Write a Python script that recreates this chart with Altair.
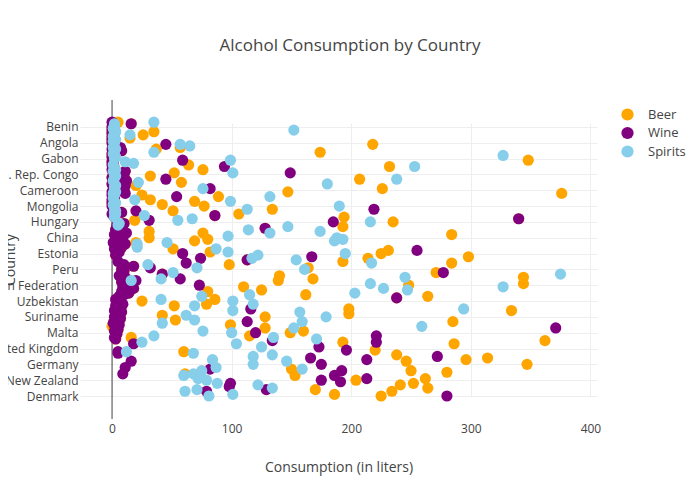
import altair as alt
import pandas as pd

# Countries from bottom (index 0) to top
countries = [
    "Denmark", "Sweden", "Norway", "Finland", "Iceland", "Ireland", "Netherlands", "Belgium", "Luxembourg", "Austria",
    "New Zealand", "Australia", "Canada", "USA", "Switzerland", "France", "Spain", "Portugal", "Italy", "Greece",
    "Germany", "Czech Republic", "Slovakia", "Poland", "Slovenia", "Croatia", "Lithuania", "Latvia", "Belarus", "Ukraine",
    "United Kingdom", "Cyprus", "Andorra", "Monaco", "Bulgaria", "Romania", "Serbia", "Montenegro", "Bosnia and Herzegovina", "Macedonia",
    "Malta", "Albania", "Moldova", "Georgia", "Armenia", "Azerbaijan", "Kazakhstan", "Kyrgyzstan", "Tajikistan", "Turkmenistan",
    "Suriname", "Guyana", "Venezuela", "Colombia", "Ecuador", "Bolivia", "Paraguay", "Uruguay", "Argentina", "Chile",
    "Uzbekistan", "Brazil", "Mexico", "Cuba", "Jamaica", "Haiti", "Dominican Republic", "Bahamas", "Barbados", "Grenada",
    "Russian Federation", "Saint Lucia", "Dominica", "Antigua and Barbuda", "Trinidad and Tobago", "Belize", "Guatemala", "Honduras", "El Salvador", "Nicaragua",
    "Peru", "Costa Rica", "Panama", "Japan", "South Korea", "Thailand", "Vietnam", "Laos", "Cambodia", "Myanmar",
    "Estonia", "Philippines", "Indonesia", "Malaysia", "Singapore", "Brunei", "Timor-Leste", "Papua New Guinea", "Fiji", "Samoa",
    "China", "Tonga", "Vanuatu", "Solomon Islands", "Kiribati", "Micronesia", "Palau", "Tuvalu", "India", "Sri Lanka",
    "Hungary", "Nepal", "Bhutan", "Bangladesh", "Pakistan", "Afghanistan", "Iran", "Iraq", "Syria", "Lebanon",
    "Mongolia", "Jordan", "Israel", "Turkey", "Egypt", "Libya", "Tunisia", "Algeria", "Morocco", "Mauritania",
    "Cameroon", "Mali", "Niger", "Chad", "Sudan", "Eritrea", "Ethiopia", "Djibouti", "Somalia", "Kenya",
    "Dem. Rep. Congo", "Uganda", "Rwanda", "Burundi", "Tanzania", "Malawi", "Zambia", "Zimbabwe", "Mozambique", "Madagascar",
    "Gabon", "Namibia", "Botswana", "South Africa", "Lesotho", "Swaziland", "Mauritius", "Seychelles", "Comoros", "Congo",
    "Angola", "Central African Republic", "Equatorial Guinea", "Nigeria", "Ghana", "Togo", "Cote d'Ivoire", "Liberia", "Sierra Leone", "Guinea",
    "Benin", "Burkina Faso", "Senegal", "Gambia",
]

N = None
beer = [
    225, 186, N, 234, 170, 264, N, 241, 252, N,
    204, 262, N, 153, 61, 280, 250, 150, N, N,
    347, N, 246, 296, 314, N, 238, N, 60, 220,
    N, N, N, 286, 193, 362, 3, 16, 115, 4,
    149, 160, 5, 128, 0, 99, 1, 285, 53, 7,
    128, 42, 198, 8, 334, 198, 6, 52, 79, 4,
    25, 86, 238, 264, 162, 14, 80, 125, 18, 110,
    248, 344, 8, 139, 168, 344, 140, 42, 271, 10,
    8, 164, 18, 98, 284, 193, 113, 214, 298, 3,
    225, 82, 231, 51, 8, 4, 11, 20, 69, 80,
    31, 5, 284, 76, 31, 3, 128, 193, 4, 10,
    235, 19, 340, 194, 86, 106, 8, 51, 134, 1,
    77, 42, 0, 69, 32, 2, 89, 25, 376, 147,
    10, 226, 1, 20, 0, 58, 12, 207, 0, 32,
    1, 52, 11, 76, 2, 232, 64, 1, 0, 348,
    1, 0, 2, 0, 174, 8, 37, 57, 1, 218,
    0, 2, 0, 15, 0, 26, 0, 35, 0, 2,
    0, 1, 16, 5,
]
wine = [
    280, N, N, 79, 129, N, 98, N, 99, 191,
    175, 213, N, 186, 9, N, 192, 82, 11, N,
    175, N, 16, 213, 166, 272, N, 5, 5, 196,
    N, 173, N, 18, 221, 134, 3, 2, 221, 4,
    120, 2, 5, 371, 3, 6, 1, 113, 4, 7,
    2, 5, 3, 8, 2, 116, 6, 3, 9, 4,
    7, 3, 238, 6, 10, 14, 8, 12, 18, 9,
    73, 15, 8, 20, 57, 11, 6, 42, 277, 10,
    8, 32, 18, 10, 62, 5, 113, 74, 167, 3,
    59, 6, 255, 2, 8, 4, 11, 1, 7, 3,
    9, 5, 2, 12, 6, 3, 128, 8, 4, 10,
    185, 31, 340, 2, 86, 0, 8, 20, 219, 1,
    0, 2, 0, 1, 0, 2, 54, 0, 11, 0,
    10, 82, 1, 11, 0, 10, 12, 45, 0, 10,
    1, 149, 11, 0, 2, 94, 0, 1, 0, 59,
    1, 0, 2, 0, 1, 8, 0, 7, 1, 45,
    0, 2, 0, 1, 0, 2, 0, 1, 0, 2,
    0, 1, 16, 0,
]
spirits = [
    81, 101, N, 61, 71, 134, N, 122, 88, N,
    79, 72, N, 60, 68, N, 75, 159, 87, N,
    118, N, 146, 84, N, 118, 134, 68, 12, N,
    N, 125, N, 104, 25, N, 171, 135, 35, N,
    100, 76, N, 152, 259, N, 42, 159, 69, N,
    179, 62, N, 157, 101, 294, N, 69, 118, N,
    101, 41, N, 75, 115, 203, N, 247, 227, 327,
    N, 216, N, 16, 41, 245, N, 375, 51, N,
    161, 71, N, 30, 217, N, 154, 117, N, 122,
    195, 97, N, 87, 21, N, 21, 46, 186, 193,
    188, 97, N, 132, 174, 114, N, 147, 5, 6,
    216, 55, 67, 2, 27, 3, 2, 3, 113, 2,
    190, 1, 3, 99, 19, 1, 132, 2, 1, 3,
    2, 76, 2, 3, 180, 22, 1, 238, 2, 3,
    2, 101, 1, 3, 2, 253, 1, 18, 11, 99,
    2, 3, 327, 1, 35, 2, 3, 1, 65, 57,
    2, 1, 3, 2, 1, 15, 2, 3, 152, 1,
    2, 2, 2, 35,
]

series_names = ["Beer", "Wine", "Spirits"]
series_colors = ["#FFA500", "#800080", "#87CEEB"]
x_ticks = [0, 100, 200, 300, 400]
labelled = countries[::10]

records = []
for name, vals in zip(series_names, [beer, wine, spirits]):
    for c, v in zip(countries, vals):
        if v is not None:
            records.append({"country": c, "drink": name, "value": v})
df = pd.DataFrame(records)
df["order"] = range(len(df))

FONT = "Open Sans"
TXT = "#444"
y_domain = list(reversed(countries))

x_scale = alt.Scale(domain=[-26.8, 405.5], nice=False, zero=False)
x_axis = alt.Axis(
    values=x_ticks, title="Consumption (in liters)", grid=True, gridColor="#eeeeee",
    domain=False, ticks=False, labelPadding=4, labelFontSize=12, labelFont=FONT,
    labelColor=TXT, titleFont=FONT, titleFontSize=14, titleFontWeight="normal",
    titleColor=TXT, titleY=48, titleBaseline="middle",
)

zero_line = alt.Chart(pd.DataFrame({"value": [0]})).mark_rule(
    color="#444444", strokeWidth=1
).encode(x=alt.X("value:Q", scale=x_scale, axis=x_axis))

points = alt.Chart(df).mark_circle(size=125, opacity=1).encode(
    x=alt.X("value:Q", scale=x_scale, axis=x_axis),
    y=alt.Y(
        "country:N",
        sort=y_domain,
        scale=alt.Scale(type="point", domain=y_domain, range=[22.2, 296], padding=0),
        axis=alt.Axis(
            values=labelled, title="Country", grid=True, gridColor="#eeeeee",
            domain=False, ticks=False, labelPadding=2, labelFontSize=12,
            labelFont=FONT, labelColor=TXT, labelLimit=0, labelOverlap=False,
            titleFont=FONT, titleFontSize=14, titleFontWeight="normal",
            titleColor=TXT, titleX=-70, titleY=159.5, titleAngle=270,
            titleAlign="center", titleBaseline="middle",
        ),
    ),
    color=alt.Color(
        "drink:N",
        scale=alt.Scale(domain=series_names, range=series_colors),
        legend=alt.Legend(
            title=None, orient="none", legendX=541, legendY=8,
            symbolType="circle", symbolSize=150, symbolStrokeWidth=0,
            labelFont=FONT, labelFontSize=13, labelColor=TXT,
            rowPadding=4.5, labelOffset=14,
        ),
    ),
    order=alt.Order("order:Q"),
)

chart = alt.layer(zero_line, points).properties(
    width=517,
    height=319,
    autosize=alt.AutoSizeParams(type="none"),
    padding={"left": 72, "top": 92, "right": 95, "bottom": 73},
    title=alt.TitleParams(
        "Alcohol Consumption by Country", font=FONT, fontSize=17,
        fontWeight="normal", color=TXT, anchor="middle", dx=11.5,
        offset=37, baseline="middle",
    ),
).configure_view(stroke=None)

chart.save("out.html", embed_options={"renderer": "svg", "actions": False})
